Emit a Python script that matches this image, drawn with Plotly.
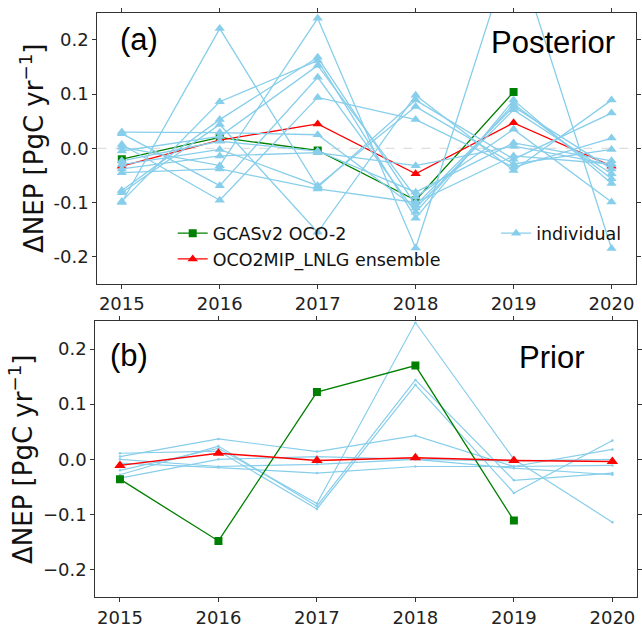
import plotly.graph_objects as go

# Years on the x axis
years = [2015, 2016, 2017, 2018, 2019, 2020]
year_ticks = ["2015", "2016", "2017", "2018", "2019", "2020"]

# y ticks (panel a uses a plain hyphen, panel b a true minus sign)
y_tickvals = [-0.2, -0.1, 0.0, 0.1, 0.2]
y_ticktext_a = ["-0.2", "-0.1", "0.0", "0.1", "0.2"]
y_ticktext_b = ["\u22120.2", "\u22120.1", "0.0", "0.1", "0.2"]

# (a) Posterior: anomalies of NEP [PgC/yr]
gcas_post = [-0.020, 0.020, -0.004, -0.096, 0.104]            # 2015-2019
ens_post = [-0.033, 0.015, 0.045, -0.047, 0.047, -0.033]     # 2015-2020
members_post = [
    [-0.100, 0.221, -0.072, 0.089, -0.020, 0.065],
    [0.030, 0.029, 0.025, -0.110, 0.071, -0.047],
    [0.027, -0.069, 0.131, -0.118, 0.082, -0.056],
    [0.007, -0.096, 0.094, 0.053, -0.035, 0.019],
    [-0.098, 0.086, 0.162, -0.129, 0.089, -0.065],
    [-0.078, 0.053, 0.168, -0.105, 0.077, -0.038],
    [-0.082, 0.044, -0.155, 0.098, -0.041, 0.089],
    [0.002, -0.032, 0.240, -0.184, 0.380, -0.185],
    [-0.005, 0.022, 0.153, -0.090, 0.035, -0.099],
    [-0.023, 0.013, -0.005, -0.081, 0.010, -0.023],
    [-0.030, -0.002, -0.069, 0.077, -0.029, -0.002],
    [-0.038, -0.014, -0.008, -0.032, 0.004, -0.030],
    [-0.045, -0.038, -0.075, -0.100, -0.014, -0.029],
]

# (b) Prior
gcas_prior = [-0.036, -0.148, 0.122, 0.170, -0.111]           # 2015-2019
ens_prior = [-0.011, 0.011, -0.002, 0.003, -0.002, -0.004]   # 2015-2020
members_prior = [
    [-0.020, 0.020, -0.080, 0.248, 0.000, -0.114],
    [-0.028, 0.024, -0.085, 0.144, -0.038, -0.025],
    [0.011, 0.015, -0.090, 0.135, -0.061, 0.034],
    [0.005, 0.037, 0.014, 0.043, -0.013, 0.018],
    [-0.007, -0.015, -0.025, -0.013, -0.013, -0.011],
    [0.000, -0.013, -0.009, 0.000, -0.016, -0.028],
    [-0.034, 0.000, 0.005, 0.000, -0.003, 0.000],
]

SKY = "#87CEEB"
GREEN = "#008000"
RED = "#FF0000"
TICKFONT = dict(family="DejaVu Sans", size=18, color="#222222")
LABELFONT = dict(family="Liberation Sans, Arial", size=31, color="#000000")

W, H = 642, 628
ML = 12  # left margin in px


def px(x):
    """page x pixel -> paper fraction"""
    return (x - ML) / (W - ML)


def py(y):
    """page y pixel (from top) -> paper fraction"""
    return 1 - y / H


fig = go.Figure()

# ---- panel (a) ----
fig.add_trace(go.Scatter(
    x=years[:len(gcas_post)], y=gcas_post, mode="lines+markers", name="GCASv2 OCO-2",
    line=dict(color=GREEN, width=1.3), marker=dict(symbol="square", size=8, color=GREEN),
    xaxis="x", yaxis="y", legend="legend"))
fig.add_trace(go.Scatter(
    x=years, y=ens_post, mode="lines+markers", name="OCO2MIP_LNLG ensemble",
    line=dict(color=RED, width=1.3), marker=dict(symbol="triangle-up", size=9, color=RED),
    xaxis="x", yaxis="y", legend="legend"))
for i, m in enumerate(members_post):
    fig.add_trace(go.Scatter(
        x=years, y=m, mode="lines+markers", name="individual",
        line=dict(color=SKY, width=1.3), marker=dict(symbol="triangle-up", size=9, color=SKY),
        showlegend=(i == 0), xaxis="x", yaxis="y", legend="legend2"))

# ---- panel (b) ----
for m in members_prior:
    fig.add_trace(go.Scatter(
        x=years, y=m, mode="lines+markers", showlegend=False,
        line=dict(color=SKY, width=1.2), marker=dict(size=2.5, color=SKY),
        xaxis="x2", yaxis="y2"))
fig.add_trace(go.Scatter(
    x=years[:len(gcas_prior)], y=gcas_prior, mode="lines+markers", showlegend=False,
    line=dict(color=GREEN, width=1.3), marker=dict(symbol="square", size=8, color=GREEN),
    xaxis="x2", yaxis="y2"))
fig.add_trace(go.Scatter(
    x=years, y=ens_prior, mode="lines+markers", showlegend=False,
    line=dict(color=RED, width=1.5), marker=dict(symbol="triangle-up", size=10, color=RED),
    xaxis="x2", yaxis="y2"))

# dashed zero reference in panel (a)
fig.add_hline(y=0, line=dict(color="#cccccc", width=0.8, dash="dash"),
              xref="x", yref="y", layer="below")

frame = dict(showline=True, linecolor="#333333", linewidth=1.2, mirror="ticks",
             ticks="outside", ticklen=4, tickwidth=1, tickcolor="#333333",
             showgrid=False, zeroline=False, tickfont=TICKFONT)

ytitle = dict(text="\u0394NEP [PgC yr<sup>\u22121</sup>]",
              font=dict(family="DejaVu Sans", size=26, color="#111111"), standoff=2)

fig.update_layout(
    width=W, height=H, margin=dict(l=ML, r=0, t=0, b=0),
    paper_bgcolor="white", plot_bgcolor="white",
    xaxis=dict(domain=[px(98), px(641)], range=[2014.75, 2020.25], anchor="y",
               tickvals=years, ticktext=year_ticks, **frame),
    yaxis=dict(domain=[py(286), py(13)], range=[-0.25, 0.25], anchor="x",
               tickvals=y_tickvals, ticktext=y_ticktext_a, title=ytitle, **frame),
    xaxis2=dict(domain=[px(96), px(642)], range=[2014.75, 2020.25], anchor="y2",
                tickvals=years, ticktext=year_ticks, **frame),
    yaxis2=dict(domain=[py(602), py(324)], range=[-0.25, 0.25], anchor="x2",
                tickvals=y_tickvals, ticktext=y_ticktext_b, title=ytitle, **frame),
    legend=dict(x=px(174), y=py(217), xanchor="left", yanchor="top",
                bgcolor="rgba(0,0,0,0)", font=dict(family="DejaVu Sans", size=17.5, color="#111111"),
                tracegroupgap=0),
    legend2=dict(x=px(500), y=py(217), xanchor="left", yanchor="top",
                 bgcolor="rgba(0,0,0,0)", font=dict(family="DejaVu Sans", size=17.5, color="#111111")),
    annotations=[
        dict(text="(a)", x=px(119), y=py(40), xref="paper", yref="paper",
             xanchor="left", yanchor="middle", showarrow=False, font=LABELFONT),
        dict(text="Posterior", x=px(622), y=py(43), xref="paper", yref="paper",
             xanchor="right", yanchor="middle", showarrow=False, font=LABELFONT),
        dict(text="(b)", x=px(109), y=py(358), xref="paper", yref="paper",
             xanchor="left", yanchor="middle", showarrow=False, font=LABELFONT),
        dict(text="Prior", x=px(591), y=py(360), xref="paper", yref="paper",
             xanchor="right", yanchor="middle", showarrow=False, font=LABELFONT),
    ],
)

fig.write_html("out.html")
